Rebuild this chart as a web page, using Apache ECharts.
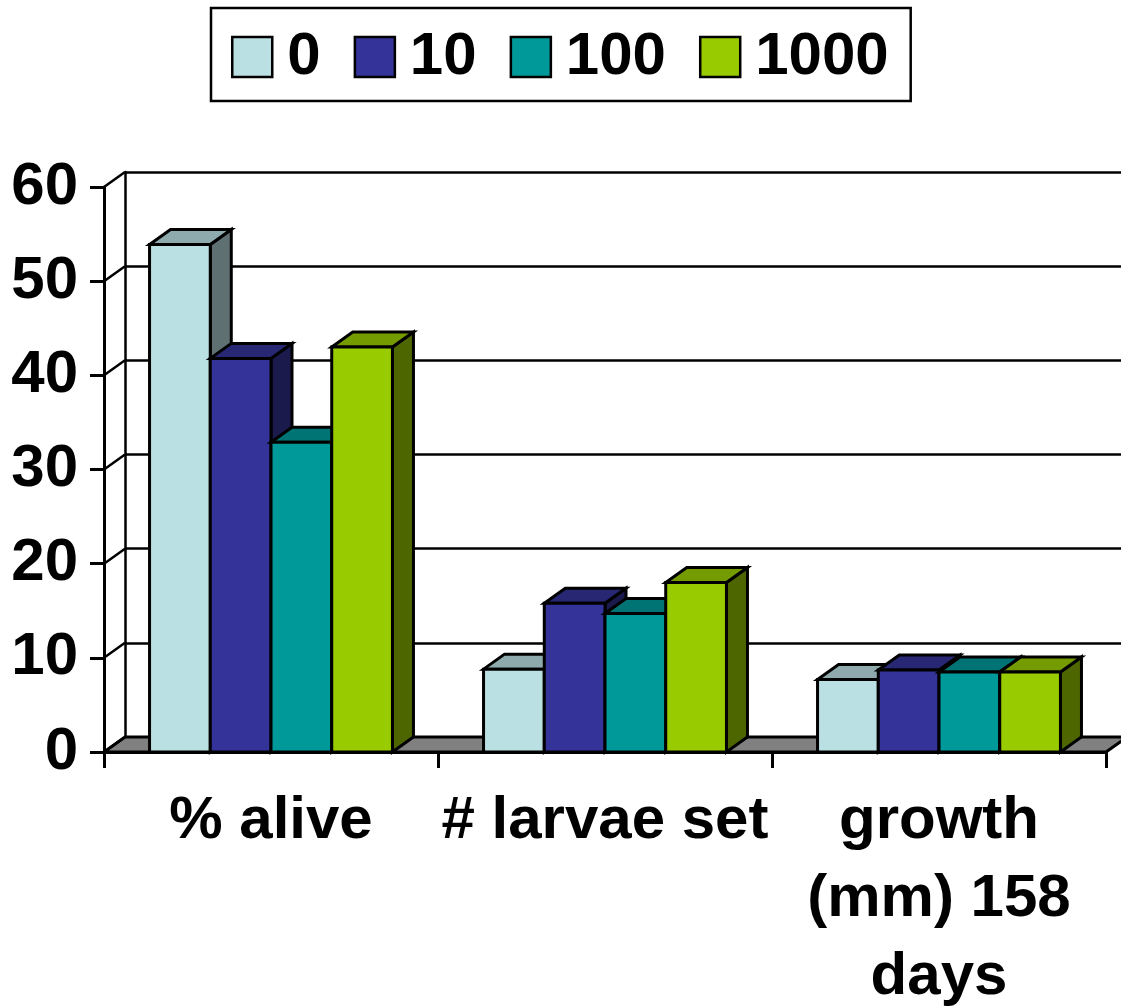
<!DOCTYPE html>
<html>
<head>
<meta charset="utf-8">
<title>Survival, larvae set and growth by dose</title>
<script src="https://cdn.jsdelivr.net/npm/echarts@6/dist/echarts.min.js"></script>
<style>
  html, body { margin: 0; padding: 0; background: #ffffff; }
  #chart { width: 1121px; height: 1008px; }
</style>
</head>
<body>
<div id="chart"></div>
<script>
// ---- data ----
const categories = ['% alive', '# larvae set', 'growth\n(mm) 158\ndays'];
const seriesNames = ['0', '10', '100', '1000'];
const values0 = [53.9, 8.8, 7.7];
const values10 = [41.8, 15.8, 8.7];
const values100 = [32.9, 14.7, 8.5];
const values1000 = [43, 18, 8.5];
const yTicks = [0, 10, 20, 30, 40, 50, 60];

// ---- style ----
const colors = ['#BBE0E3', '#333399', '#009999', '#99CC00'];
const FONT = '"Liberation Sans", Arial, Helvetica, sans-serif';
const DX = 21, DY = -15;          // oblique depth offset of the 3D box
const LINE = 3;

function shade(hex, k) {
  const n = parseInt(hex.slice(1), 16);
  const r = Math.round(((n >> 16) & 255) * k);
  const g = Math.round(((n >> 8) & 255) * k);
  const b = Math.round((n & 255) * k);
  return 'rgb(' + r + ',' + g + ',' + b + ')';
}

const outline = { stroke: '#000', lineWidth: LINE, lineJoin: 'miter' };

// one 3D column: right side, top, then front face
function columnRenderer(k) {
  return function (params, api) {
    const cat = api.value(0);
    const val = api.value(1);
    const band = api.size([1, 0])[0];
    const w = band / 5.5;                       // gap width 150 %
    const base = api.coord([cat, 0]);
    const top = api.coord([cat, val]);
    const x0 = base[0] - 2 * w + k * w;
    const x1 = x0 + w;
    const yb = base[1], yt = top[1];
    const c = colors[k];
    return {
      type: 'group',
      children: [
        { type: 'polygon',
          shape: { points: [[x1, yb], [x1 + DX, yb + DY], [x1 + DX, yt + DY], [x1, yt]] },
          style: Object.assign({ fill: shade(c, 0.5) }, outline) },
        { type: 'polygon',
          shape: { points: [[x0, yt], [x1, yt], [x1 + DX, yt + DY], [x0 + DX, yt + DY]] },
          style: Object.assign({ fill: shade(c, 0.76) }, outline) },
        { type: 'rect',
          shape: { x: x0, y: yt, width: w, height: yb - yt },
          style: Object.assign({ fill: c }, outline) }
      ]
    };
  };
}

// grey floor under the columns
function floorRenderer(params, api) {
  const cs = params.coordSys;
  const y = api.coord([0, 0])[1];
  const xl = cs.x, xr = cs.x + cs.width;
  return {
    type: 'polygon',
    shape: { points: [[xl, y], [xr, y], [xr + DX, y + DY], [xl + DX, y + DY]] },
    style: Object.assign({ fill: '#808080' }, outline)
  };
}

// diagonal lines on the left side wall
function sideWallRenderer(params, api) {
  const cs = params.coordSys;
  const y = api.coord([0, api.value(1)])[1];
  return {
    type: 'line',
    shape: { x1: cs.x, y1: y, x2: cs.x + DX, y2: y + DY },
    style: { stroke: '#000', lineWidth: 2.5 }
  };
}

const valueLists = [values0, values10, values100, values1000];

const columnSeries = seriesNames.map(function (name, k) {
  return {
    name: name,
    type: 'custom',
    xAxisIndex: 0,
    yAxisIndex: 0,
    z: 5,
    itemStyle: { color: colors[k] },
    renderItem: columnRenderer(k),
    encode: { x: 0, y: 1 },
    data: valueLists[k].map(function (v, i) { return [i, v]; })
  };
});

const option = {
  animation: false,
  backgroundColor: '#ffffff',
  textStyle: { fontFamily: FONT },
  legend: {
    data: seriesNames,
    left: 211,
    top: 8,
    orient: 'horizontal',
    padding: [19, 22, 14, 20],
    itemGap: 33,
    itemWidth: 40,
    itemHeight: 40,
    icon: 'rect',
    itemStyle: { borderColor: '#000', borderWidth: 2.5 },
    borderColor: '#000',
    borderWidth: 2.5,
    selectedMode: false,
    textStyle: {
      fontFamily: FONT, fontSize: 60, fontWeight: 'bold', color: '#000',
      padding: [0, 0, 0, 10]
    }
  },
  grid: [
    // front plane
    { left: 104, top: 187, width: 1002, height: 565, containLabel: false, outerBoundsMode: 'none' },
    // back wall
    { left: 104 + DX, top: 187 + DY, width: 1002, height: 565, containLabel: false, outerBoundsMode: 'none' }
  ],
  xAxis: [
    {
      type: 'category',
      gridIndex: 0,
      data: categories,
      axisLine: { show: true, lineStyle: { color: '#000', width: LINE } },
      axisTick: { show: true, length: 16, lineStyle: { color: '#000', width: LINE } },
      axisLabel: {
        interval: 0,
        margin: 30,
        color: '#000',
        fontFamily: FONT,
        fontSize: 60,
        fontWeight: 'bold',
        lineHeight: 78,
        align: 'center'
      },
      splitLine: { show: false }
    },
    {
      type: 'category',
      gridIndex: 1,
      data: categories,
      show: false
    }
  ],
  yAxis: [
    {
      type: 'value',
      gridIndex: 0,
      min: 0,
      max: 60,
      interval: 10,
      axisLine: { show: true, lineStyle: { color: '#000', width: LINE } },
      axisTick: { show: true, length: 14, lineStyle: { color: '#000', width: LINE } },
      axisLabel: {
        margin: 26,
        color: '#000',
        fontFamily: FONT,
        fontSize: 60,
        fontWeight: 'bold'
      },
      splitLine: { show: false }
    },
    {
      type: 'value',
      gridIndex: 1,
      min: 0,
      max: 60,
      interval: 10,
      axisLine: { show: true, lineStyle: { color: '#000', width: 2.5 } },
      axisTick: { show: false },
      axisLabel: { show: false },
      splitLine: { show: true, lineStyle: { color: '#000', width: 2.5 } }
    }
  ],
  series: [
    {
      name: 'floor',
      type: 'custom',
      xAxisIndex: 0,
      yAxisIndex: 0,
      z: 3,
      silent: true,
      renderItem: floorRenderer,
      data: [[0, 0]]
    },
    {
      name: 'side wall',
      type: 'custom',
      xAxisIndex: 0,
      yAxisIndex: 0,
      z: 3,
      silent: true,
      renderItem: sideWallRenderer,
      data: yTicks.map(function (v) { return [0, v]; })
    }
  ].concat(columnSeries)
};

const chart = echarts.init(document.getElementById('chart'), null, { renderer: 'canvas' });
chart.setOption(option);
</script>
</body>
</html>
